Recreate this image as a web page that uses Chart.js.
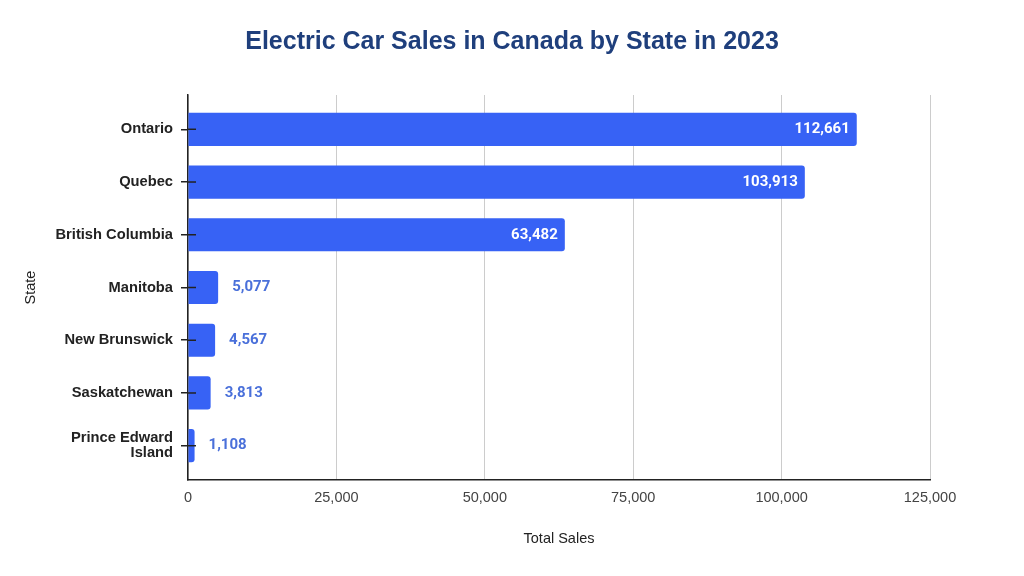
<!DOCTYPE html>
<html>
<head>
    <title>Electric Car Sales in Canada by State in 2023</title>
    <script src="https://cdn.jsdelivr.net/npm/chart.js"></script>
    <style>
        body { margin: 0; background: #fff; }
    </style>
</head>
<body>
    <canvas id="salesChart" width="1024" height="576"></canvas>
    <script>
        // data
        var states = ['Ontario', 'Quebec', 'British Columbia', 'Manitoba', 'New Brunswick', 'Saskatchewan', ['Prince Edward', 'Island']];
        var sales = [112661, 103913, 63482, 5077, 4567, 3813, 1108];
        var xTicks = [0, 25000, 50000, 75000, 100000, 125000];

        var barColor = '#3762F5';
        var outsideLabelColor = '#4a70da';

        // value labels: inside (white) for long bars, outside (blue) for short ones
        var valueLabels = {
            id: 'valueLabels',
            afterDatasetsDraw: function (chart) {
                var ctx = chart.ctx;
                var meta = chart.getDatasetMeta(0);
                ctx.save();
                ctx.font = 'bold 15px Roboto';
                ctx.textBaseline = 'middle';
                meta.data.forEach(function (bar, i) {
                    var text = sales[i].toLocaleString('en-US');
                    var w = bar.x - bar.base;
                    if (w > 100) {
                        ctx.fillStyle = '#ffffff';
                        ctx.textAlign = 'right';
                        ctx.fillText(text, bar.x - 7, bar.y);
                    } else {
                        ctx.fillStyle = outsideLabelColor;
                        ctx.textAlign = 'left';
                        ctx.fillText(text, bar.x + 14, bar.y);
                    }
                });
                ctx.restore();
            }
        };

        // small tick marks that cross the left axis and sit over the bars
        var innerTicks = {
            id: 'innerTicks',
            afterDatasetsDraw: function (chart) {
                var ctx = chart.ctx;
                var y = chart.scales.y;
                var left = chart.chartArea.left;
                ctx.save();
                ctx.strokeStyle = '#222';
                ctx.lineWidth = 1.5;
                y.ticks.forEach(function (t, i) {
                    var py = y.getPixelForTick(i);
                    ctx.beginPath();
                    ctx.moveTo(left, py);
                    ctx.lineTo(left + 8, py);
                    ctx.stroke();
                });
                ctx.restore();
            }
        };

        var ctx = document.getElementById('salesChart').getContext('2d');
        new Chart(ctx, {
            type: 'bar',
            data: {
                datasets: [{
                    label: 'Total Sales',
                    data: sales.map(function (v, i) { return { x: v, y: i }; }),
                    backgroundColor: barColor,
                    borderRadius: 3,
                    borderSkipped: 'start',
                    categoryPercentage: 1,
                    barPercentage: 0.63
                }]
            },
            options: {
                indexAxis: 'y',
                responsive: false,
                animation: false,
                layout: { padding: 0 },
                plugins: {
                    legend: { display: false },
                    tooltip: { enabled: false },
                    title: {
                        display: true,
                        text: 'Electric Car Sales in Canada by State in 2023',
                        color: '#1f3f7c',
                        font: { family: 'Liberation Sans', size: 25, weight: 'bold' },
                        padding: { top: 27, bottom: 38 }
                    }
                },
                scales: {
                    x: {
                        type: 'linear',
                        min: 0,
                        max: 125000,
                        afterBuildTicks: function (scale) {
                            scale.ticks = xTicks.map(function (v) { return { value: v }; });
                        },
                        afterFit: function (scale) { scale.height = 96; },
                        grid: { color: '#cccccc', lineWidth: 1, drawTicks: false },
                        border: { display: true, color: '#222', width: 1.5 },
                        ticks: {
                            color: '#444',
                            padding: 9,
                            font: { family: 'Liberation Sans', size: 14.5 },
                            maxRotation: 0
                        },
                        title: {
                            display: true,
                            text: 'Total Sales',
                            color: '#222',
                            font: { family: 'Liberation Sans', size: 14.5 },
                            padding: { top: 0, bottom: 28 }
                        }
                    },
                    y: {
                        type: 'linear',
                        reverse: true,
                        offset: false,
                        min: -0.65,
                        max: 6.65,
                        afterBuildTicks: function (scale) {
                            scale.ticks = states.map(function (s, i) { return { value: i }; });
                        },
                        afterFit: function (scale) { scale.width = 188; },
                        grid: { offset: false, drawOnChartArea: false, drawTicks: true, tickLength: 7, color: '#222', lineWidth: 1.5 },
                        border: { display: true, color: '#222', width: 1.5 },
                        ticks: {
                            color: '#222',
                            padding: 8,
                            font: { family: 'Liberation Sans', size: 14.7, weight: 'bold', lineHeight: 1.05 },
                            callback: function (value) { return states[value]; }
                        },
                        title: {
                            display: true,
                            text: 'State',
                            color: '#222',
                            font: { family: 'Liberation Sans', size: 14.5 },
                            padding: { top: 22, bottom: 0 }
                        }
                    },
                    // empty right-hand box so the plot stops at 125,000 while the title stays centred on the page
                    spacer: {
                        type: 'linear',
                        axis: 'y',
                        position: 'right',
                        display: true,
                        afterFit: function (scale) { scale.width = 94; },
                        grid: { display: false },
                        border: { display: false },
                        ticks: { display: false }
                    }
                }
            },
            plugins: [valueLabels, innerTicks]
        });
    </script>
</body>
</html>
